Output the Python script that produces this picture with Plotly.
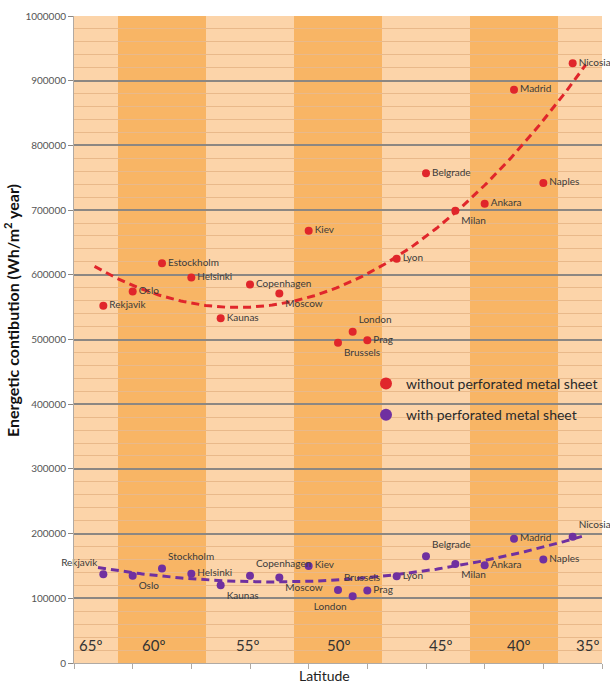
import numpy as np
import plotly.graph_objects as go

# ---------------- data ----------------
cities_red = ["Rekjavik", "Oslo", "Estockholm", "Helsinki", "Kaunas", "Copenhagen", "Moscow",
              "Kiev", "Brussels", "London", "Prag", "Lyon", "Belgrade", "Milan", "Ankara",
              "Madrid", "Naples", "Nicosia"]
cities_purple = ["Rekjavik", "Oslo", "Stockholm", "Helsinki", "Kaunas", "Copenhagen", "Moscow",
                 "Kiev", "Brussels", "London", "Prag", "Lyon", "Belgrade", "Milan", "Ankara",
                 "Madrid", "Naples", "Nicosia"]
x_pos = [1, 2, 3, 4, 5, 6, 7, 8, 9, 9.5, 10, 11, 12, 13, 14, 15, 16, 17]
without_sheet = [552000, 574000, 618000, 596000, 533000, 585000, 571000, 668000, 495000,
                 512000, 499000, 625000, 757000, 699000, 710000, 886000, 742000, 927000]
with_sheet = [137000, 135000, 146000, 138000, 120000, 135000, 132000, 150000, 113000,
              103000, 112000, 134000, 165000, 153000, 151000, 192000, 160000, 195000]
lat_labels = ["65º", "60º", "55º", "50º", "45º", "40º", "35º"]
lat_label_x = [0.55, 2.7, 5.9, 9.0, 12.5, 15.15, 17.5]

# ---------------- styles ----------------
RED = "#e0262b"
PURPLE = "#7030a0"
LIGHT = "#fcd4a9"
DARK = "#f8b565"
FONT = "Lato"
red_pos = ["middle right"] * 6 + ["bottom right", "middle right", "bottom right", "top right",
                                  "middle right", "middle right", "middle right", "bottom right",
                                  "middle right", "middle right", "middle right", "middle right"]
purple_pos = ["top left", "bottom right", "top right", "middle right", "bottom right", "top right",
              "bottom right", "middle right", "top right", "bottom left", "middle right",
              "middle right", "top right", "bottom right", "middle right", "middle right",
              "middle right", "top right"]

fig = go.Figure()

# trend lines (2nd order polynomial fits of the data)
xr = np.linspace(0.7, 17.45, 200)
xp = np.linspace(0.82, 17.45, 200)
cr = np.polyfit(x_pos, without_sheet, 2)
cp = np.polyfit(x_pos, with_sheet, 2)
fig.add_trace(go.Scatter(x=xr, y=np.polyval(cr, xr), mode="lines", showlegend=False,
                         line=dict(color=RED, width=3, dash="8px,5px"), hoverinfo="skip"))
fig.add_trace(go.Scatter(x=xp, y=np.polyval(cp, xp), mode="lines", showlegend=False,
                         line=dict(color=PURPLE, width=3, dash="8px,5px"), hoverinfo="skip"))

fig.add_trace(go.Scatter(x=x_pos, y=without_sheet, mode="markers+text", text=cities_red,
                         textposition=red_pos, showlegend=False, cliponaxis=False,
                         textfont=dict(family=FONT, size=10, color="#3a3a3a"),
                         marker=dict(color=RED, size=8)))
fig.add_trace(go.Scatter(x=x_pos, y=with_sheet, mode="markers+text", text=cities_purple,
                         textposition=purple_pos, showlegend=False, cliponaxis=False,
                         textfont=dict(family=FONT, size=10, color="#3a3a3a"),
                         marker=dict(color=PURPLE, size=8)))

# legend entries
fig.add_trace(go.Scatter(x=[None], y=[None], mode="markers", name="without perforated metal sheet",
                         legendgroup="a", marker=dict(color=RED, size=12)))
fig.add_trace(go.Scatter(x=[None], y=[None], mode="markers", name="with perforated metal sheet",
                         legendgroup="b", marker=dict(color=PURPLE, size=12)))

# darker latitude bands
shapes = []
for start in (1.5, 7.5, 13.5):
    shapes.append(dict(type="rect", xref="x", yref="paper", x0=start, x1=start + 3, y0=0, y1=1,
                       fillcolor=DARK, line=dict(width=0), layer="below"))

annotations = [dict(x=lx, y=28000, xref="x", yref="y", text=lt, showarrow=False,
                    font=dict(family=FONT, size=15, color="#333333"))
               for lx, lt in zip(lat_label_x, lat_labels)]
annotations.append(dict(x=(324 - 74) / 528, y=(663 - 675) / 647, xref="paper", yref="paper",
                        xanchor="center", yanchor="middle",
                        text="Latitude", showarrow=False,
                        font=dict(family=FONT, size=14, color="#222222")))
annotations.append(dict(x=(11 - 74) / 528, y=(663 - 311) / 647, xref="paper", yref="paper",
                        xanchor="center", yanchor="middle", textangle=-90,
                        text="<b>Energetic contibution (Wh/m<sup>2</sup> year)</b>", showarrow=False,
                        font=dict(family=FONT, size=16, color="#111111")))

fig.update_layout(
    width=610, height=684,
    margin=dict(l=74, r=8, t=16, b=21, autoexpand=False),
    paper_bgcolor="white",
    plot_bgcolor=LIGHT,
    shapes=shapes,
    annotations=annotations,
    legend=dict(x=(366 - 74) / 528, y=1 - (368 - 16) / 647, xanchor="left", yanchor="top",
                bgcolor="rgba(0,0,0,0)", tracegroupgap=10,
                font=dict(family=FONT, size=14, color="#2a2a2a")),
    xaxis=dict(range=[0, 18], tickvals=list(range(0, 19, 2)), showticklabels=False,
               ticks="outside", ticklen=5, tickcolor="#b0aaa4", showgrid=False, zeroline=False,
               showline=True, linecolor="#b0aaa4", linewidth=1),
    yaxis=dict(range=[0, 1000000], dtick=100000, tickformat="d", ticks="outside", ticklen=5,
               tickcolor="#8c8782", showgrid=True, gridcolor="#8c8782", gridwidth=2,
               zeroline=False, showline=True, linecolor="#b0aaa4", linewidth=1,
               tickfont=dict(family=FONT, size=10, color="#555555"),
               minor=dict(dtick=20000, showgrid=True, gridcolor="#e9b98a", gridwidth=1)),
)

fig.write_html("out.html")
